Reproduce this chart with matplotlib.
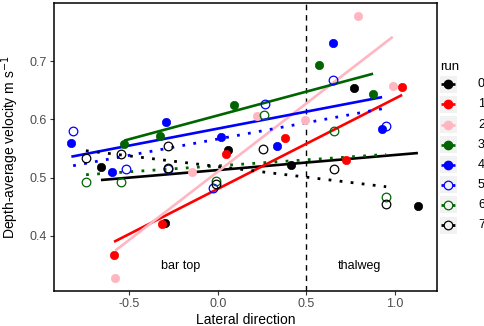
import numpy as np
import matplotlib
matplotlib.use("Agg")
import matplotlib.pyplot as plt
from matplotlib.patches import Rectangle

plt.rcParams['font.family'] = ['Liberation Sans', 'DejaVu Sans']

runs = ["0", "1", "2", "3", "4", "5", "6", "7"]
colors = ["#000000", "#FF0000", "#FFB6C1", "#006400", "#0000FF", "#0000FF", "#006400", "#000000"]
filled = [True, True, True, True, True, False, False, False]
styles = ["solid", "solid", "solid", "solid", "solid", "dotted", "dotted", "dotted"]

lat0 = [-0.66, -0.30, 0.057, 0.411, 0.769, 1.129]
vel0 = [0.519, 0.422, 0.548, 0.521, 0.653, 0.451]
lat1 = [-0.586, -0.317, 0.045, 0.379, 0.722, 1.04]
vel1 = [0.368, 0.420, 0.540, 0.568, 0.531, 0.656]
lat2 = [-0.579, -0.147, 0.223, 0.494, 0.79, 0.987]
vel2 = [0.328, 0.509, 0.606, 0.598, 0.778, 0.657]
lat3 = [-0.529, -0.326, 0.091, 0.569, 0.876]
vel3 = [0.557, 0.571, 0.624, 0.693, 0.644]
lat4 = [-0.827, -0.599, -0.291, 0.017, 0.335, 0.652, 0.927]
vel4 = [0.559, 0.509, 0.595, 0.570, 0.554, 0.731, 0.583]
lat5 = [-0.817, -0.516, -0.281, -0.025, 0.265, 0.652, 0.95]
vel5 = [0.580, 0.515, 0.515, 0.483, 0.627, 0.667, 0.589]
lat6 = [-0.744, -0.549, -0.010, 0.259, 0.657, 0.95]
vel6 = [0.493, 0.492, 0.495, 0.607, 0.580, 0.466]
lat7 = [-0.745, -0.549, -0.281, -0.281, -0.010, 0.255, 0.657, 0.95]
vel7 = [0.533, 0.540, 0.555, 0.517, 0.489, 0.549, 0.515, 0.454]

lats = [lat0, lat1, lat2, lat3, lat4, lat5, lat6, lat7]
vels = [vel0, vel1, vel2, vel3, vel4, vel5, vel6, vel7]

W, H = 485, 326
fig = plt.figure(figsize=(W / 100, H / 100), dpi=100)
ax = fig.add_axes([54 / W, 1 - 291 / H, (436.7 - 54) / W, (291 - 3) / H])

dot = (0, (1, 3))
for i in range(len(runs)):
    x = np.array(lats[i]); y = np.array(vels[i])
    k, b = np.polyfit(x, y, 1)
    xs = np.array([x.min(), x.max()])
    ls = '-' if styles[i] == 'solid' else dot
    ax.plot(xs, k * xs + b, color=colors[i], lw=1.9 if styles[i] == 'solid' else 2.0,
            linestyle=ls, zorder=2, solid_capstyle='butt', dash_capstyle='butt')
for i in range(len(runs)):
    x = np.array(lats[i]); y = np.array(vels[i])
    if filled[i]:
        ax.plot(x, y, 'o', ms=6, color=colors[i], mec=colors[i], mew=0.5, zorder=3)
    else:
        ax.plot(x, y, 'o', ms=6.2, mfc='none', mec=colors[i], mew=0.9, zorder=3)

ax.axvline(0.5, color='black', lw=1.0, linestyle=(0, (4, 3.5)), zorder=1)
ax.text(-0.21, 0.348, "bar top", ha='center', va='center', fontsize=9)
ax.text(0.80, 0.348, "thalweg", ha='center', va='center', fontsize=9)

ax.set_xlim(-0.925, 1.235)
ax.set_ylim(0.3055, 0.7995)
ax.set_xticks([-0.5, 0.0, 0.5, 1.0])
ax.set_xticklabels(["-0.5", "0.0", "0.5", "1.0"])
ax.set_yticks([0.4, 0.5, 0.6, 0.7])
ax.set_yticklabels(["0.4", "0.5", "0.6", "0.7"])
ax.tick_params(direction='out', length=3, width=0.8, colors='#333333', labelsize=9,
               labelcolor='#4D4D4D', pad=2)
for s in ax.spines.values():
    s.set_linewidth(1.1)
    s.set_color('black')
ax.set_xlabel("Lateral direction", fontsize=10, labelpad=2)
ax.set_ylabel("Depth-average velocity m s$^{-1}$", fontsize=10, labelpad=6)

# legend
lg = fig.add_axes([0, 0, 1, 1], facecolor='none')
lg.set_xlim(0, W); lg.set_ylim(H, 0); lg.axis('off')
lg.text(440, 67, "run", fontsize=9.5, ha='left', va='center')
for i in range(len(runs)):
    cy = 84.3 + 20.1 * i
    lg.add_patch(Rectangle((440, cy - 8.5), 17, 17, facecolor='#F2F2F2', edgecolor='none'))
    ls = '-' if styles[i] == 'solid' else dot
    lg.plot([441.5, 455.5], [cy, cy], color=colors[i], lw=1.9 if styles[i] == 'solid' else 2.0,
            linestyle=ls, solid_capstyle='butt')
    if filled[i]:
        lg.plot([448.5], [cy], 'o', ms=6, color=colors[i])
    else:
        lg.plot([448.5], [cy], 'o', ms=6.2, mfc='none', mec=colors[i], mew=0.9)
    lg.text(478, cy, runs[i], fontsize=9, ha='left', va='center')

fig.savefig("out.png", dpi=100)
